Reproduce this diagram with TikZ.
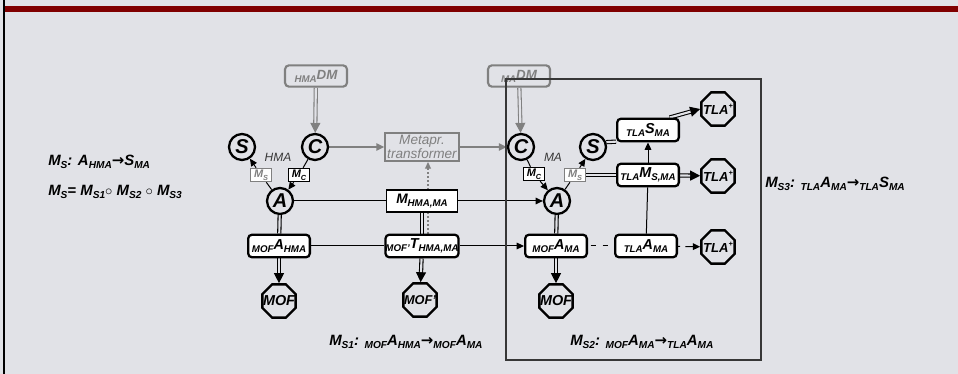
\documentclass[tikz,border=0pt]{standalone}
\usepackage{fontspec}
\setmainfont{Liberation Sans}
\newfontfamily\dvs{DejaVu Sans}
\usetikzlibrary{arrows.meta,shapes.geometric}
\definecolor{bgc}{RGB}{225,226,231}
\definecolor{grayc}{RGB}{128,128,128}
\definecolor{barc}{RGB}{128,0,0}
\definecolor{darkc}{RGB}{55,55,55}
\pgfdeclarelayer{back}
\pgfdeclarelayer{conn}
\pgfsetlayers{back,conn,main}
\newcommand\ls[1]{\raisebox{-0.45ex}{\fontsize{7.3}{7}\selectfont #1}}
\newcommand\lf[1]{\raisebox{-0.45ex}{\fontsize{7.6}{7}\selectfont #1}}
\newcommand\lss[1]{\raisebox{-0.45ex}{\fontsize{5.5}{6}\selectfont #1}}
\newcommand\rarr{{\dvs\bfseries\upshape →}}
\newcommand\dblarrow[3]{%
  \draw[#1, line width=0.8pt, -{Triangle[length=7.5pt,width=7.5pt]}] (#2) -- (#3);
  \draw[#1, line width=0.8pt, double=bgc, double distance=1.6pt, shorten >=7.5pt] (#2) -- (#3);}
\newcommand\dblline[3]{%
  \draw[#1, line width=0.8pt, double=bgc, double distance=1.6pt] (#2) -- (#3);}
\tikzset{
  every node/.style={inner sep=0pt},
  circ/.style={circle, draw, line width=1.7pt, minimum size=19.5pt, font=\fontsize{15}{15}\selectfont\bfseries\itshape},
  rbox/.style={draw, fill=white, rounded corners=3pt, line width=1.7pt, minimum width=46.3pt, minimum height=17pt, font=\fontsize{10.8}{11}\selectfont\bfseries\itshape},
  sqbox/.style={draw, fill=white, line width=0.8pt, minimum width=53.5pt, minimum height=16.5pt, font=\fontsize{10.3}{11}\selectfont\bfseries\itshape},
  smbox/.style={draw, fill=white, line width=0.9pt, minimum width=15.5pt, minimum height=10pt, font=\fontsize{8.2}{8}\selectfont\bfseries\itshape},
  gsmbox/.style={smbox, draw=grayc, text=grayc},
  oct/.style={regular polygon, regular polygon sides=8, draw, line width=1.8pt, minimum size=27pt},
  otxt/.style={font=\fontsize{10.8}{11}\selectfont\bfseries\itshape},
  dmbox/.style={draw=grayc, rounded corners=3pt, line width=1.6pt, minimum width=46.5pt, minimum height=16pt, text=grayc, font=\fontsize{10}{10}\selectfont\bfseries\itshape},
  metabox/.style={draw=grayc, line width=1.6pt, minimum width=55pt, minimum height=21pt, text=grayc, align=center, font=\fontsize{10.2}{10.5}\selectfont\itshape},
  lbl/.style={text=darkc, font=\fontsize{9}{9}\selectfont\itshape},
  frm/.style={anchor=west, font=\fontsize{11.2}{12}\selectfont\bfseries\itshape},
  arr/.style={line width=0.75pt, -{Triangle[length=5.5pt,width=5pt]}},
  garr/.style={grayc, line width=1.1pt, -{Triangle[length=6pt,width=5.5pt]}},
  ln/.style={line width=0.75pt},
}
\begin{document}
\begin{tikzpicture}[x=0.75pt,y=-0.75pt]
\begin{pgfonlayer}{back}
\fill[bgc] (0,0) rectangle (958,374);
\end{pgfonlayer}
\useasboundingbox (0,0) rectangle (958,374);
\fill[barc] (3,6) rectangle (958,12);
\draw[black, line width=1.4pt] (4,0) -- (4,374);

% left part
\node[dmbox] (hdm) at (316,76) {\ls{HMA}DM};
\node[circ] (Cl) at (315,147) {C};
\node[circ] (Sl) at (242,147) {S};
\node[circ] (Al) at (280,201) {A};
\node[smbox] (McL) at (299,175) {M\lss{C}};
\node[gsmbox] (MsL) at (261,175) {M\lss{S}};
\node[lbl] (hma) at (278,157) {HMA};
\node[metabox] (meta) at (422,147) {Metapr.\\transformer};
\node[sqbox] (mb) at (422,201) {M\ls{HMA,MA}};
\node[rbox] (tb) at (422,246) {\ls{MOF'}T\ls{HMA,MA}};
\node[rbox] (mah) at (279,246) {\ls{MOF}A\ls{HMA}};
\node[oct] (mof1) at (279,301) {};
\node[otxt] at (mof1) {MOF};
\node[oct] (mof2) at (420,300) {};
\node[otxt, font=\fontsize{9.6}{10}\selectfont\bfseries\itshape] at (mof2) {MOF'};
\coordinate (dotx) at (428,0);

% right part
\node[dmbox] (mdm) at (519,76) {\ls{MA}DM};
\node[circ] (Cr) at (521,147) {C};
\node[circ] (Ar) at (557,201) {A};
\node[circ] (Sr) at (593,147) {S};
\node[smbox] (McR) at (534,174) {M\lss{C}};
\node[gsmbox] (MsR) at (575,175) {M\lss{S}};
\node[lbl] (ma) at (553,157) {MA};
\node[rbox] (mam) at (556,246) {\ls{MOF}A\ls{MA}};
\node[oct] (mof3) at (556,301) {};
\node[otxt] at (mof3) {MOF};
\node[rbox] (tam) at (646,246) {\ls{TLA}A\ls{MA}};
\node[rbox] (tms) at (648,175) {\ls{TLA}M\ls{S,MA}};
\node[rbox] (tsm) at (648,130) {\ls{TLA}S\ls{MA}};
\node[oct] (tla1) at (718,109) {};
\node[otxt, font=\fontsize{9.8}{10}\selectfont\bfseries\itshape] at (tla1) {TLA\raisebox{0.9ex}{\fontsize{5.5}{5}\selectfont +}};
\node[oct] (tla2) at (718,176) {};
\node[otxt, font=\fontsize{9.8}{10}\selectfont\bfseries\itshape] at (tla2) {TLA\raisebox{0.9ex}{\fontsize{5.5}{5}\selectfont +}};
\node[oct] (tla3) at (718,247) {};
\node[otxt, font=\fontsize{9.8}{10}\selectfont\bfseries\itshape] at (tla3) {TLA\raisebox{0.9ex}{\fontsize{5.5}{5}\selectfont +}};

% formulas
\node[frm] (f1) at (48,162) {M\lf{S}: A\lf{HMA}\rarr S\lf{MA}};
\node[frm] (f2) at (48,192) {M\lf{S}= M\lf{S1}$\circ$ M\lf{S2} $\circ$ M\lf{S3}};
\node[frm] (f3) at (329,342) {M\lf{S1}: \lf{MOF}A\lf{HMA}\rarr\lf{MOF}A\lf{MA}};
\node[frm] (f4) at (570,342) {M\lf{S2}: \lf{MOF}A\lf{MA}\rarr\lf{TLA}A\lf{MA}};
\node[frm] (f5) at (765,184) {M\lf{S3}: \lf{TLA}A\lf{MA}\rarr\lf{TLA}S\lf{MA}};

\begin{pgfonlayer}{conn}
% gray
\dblarrow{grayc}{hdm}{Cl}
\dblarrow{grayc}{mdm}{Cr}
\draw[garr] (Cl) -- (meta);
\draw[garr] (meta) -- (Cr);
\draw[grayc, line width=1pt, dotted, -{Triangle[length=5pt,width=4.5pt]}] (tb.north -| dotx) -- (meta.south -| dotx);
% left morphisms
\draw[ln] (Cl) -- (McL);
\draw[arr] (McL) -- (Al);
\draw[ln] (Al) -- (MsL);
\draw[arr] (MsL) -- (Sl);
\draw[ln] (Al) -- (mb);
\draw[arr] (mb) -- (Ar);
\dblline{black}{mb}{tb}
\dblline{black}{Al}{mah}
\dblarrow{black}{mah}{mof1}
\draw[ln] (mah) -- (tb);
\dblarrow{black}{tb}{mof2}
\draw[arr] (tb) -- (mam);
% right morphisms
\draw[ln] (Cr) -- (McR);
\draw[arr] (McR) -- (Ar);
\draw[ln] (Ar) -- (MsR);
\draw[arr] (MsR) -- (Sr);
\dblline{black}{Ar}{mam}
\dblarrow{black}{mam}{mof3}
\draw[ln, dash pattern=on 4pt off 5pt, dash phase=-2pt] (mam) -- (tam);
\draw[arr, dash pattern=on 1.5pt off 4pt on 30pt] (tam) -- (tla3);
\draw[ln] (tam) -- (tms);
\draw[arr] (tms) -- (tsm);
\dblarrow{black}{tms}{tla2}
\dblarrow{black}{tsm.30}{tla1.west}
\dblline{black}{Sr.20}{tsm.200}
\dblline{black}{MsR}{tms}
\end{pgfonlayer}

% frame
\draw[darkc, line width=1.1pt] (506,79) rectangle (761,360);
\end{tikzpicture}
\end{document}
